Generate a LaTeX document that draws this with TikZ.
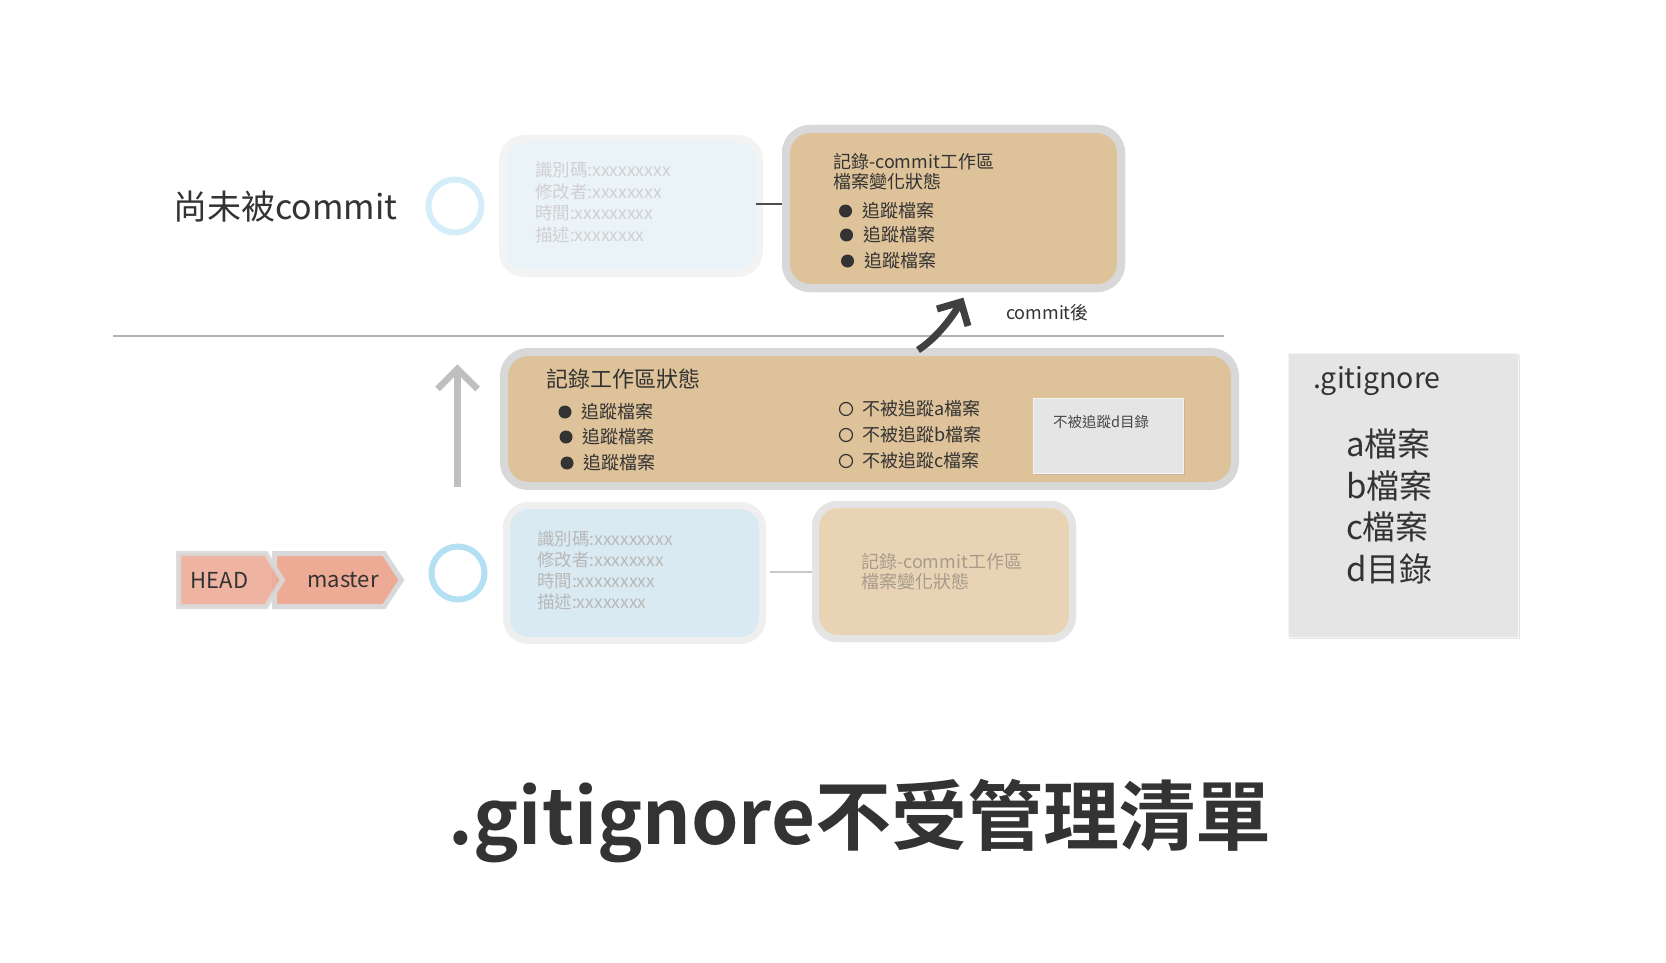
\documentclass[tikz,border=0pt]{standalone}
\usepackage{fontspec}
\setmainfont{Noto Sans CJK TC}[BoldFont={Noto Sans CJK TC Bold}]
\usetikzlibrary{shadows,calc}
\definecolor{fadeborder}{HTML}{F3F3F3}
\definecolor{fadebluefill}{HTML}{EAF3F8}
\definecolor{fadetext}{HTML}{D0D0D0}
\definecolor{tanborder}{HTML}{D8D8D8}
\definecolor{tanfill}{HTML}{DEC29A}
\definecolor{lowblueborder}{HTML}{EFEFEF}
\definecolor{lowbluefill}{HTML}{DAEAF3}
\definecolor{lowbluetext}{HTML}{B8B8B8}
\definecolor{lowtanborder}{HTML}{E4E4E4}
\definecolor{lowtanfill}{HTML}{E8D4B5}
\definecolor{lowtantext}{HTML}{A89B8C}
\definecolor{circtop}{HTML}{D5EDF8}
\definecolor{circlow}{HTML}{B4E0F3}
\definecolor{tagfill}{HTML}{EDAA94}
\definecolor{tagborder}{HTML}{D9D9D9}
\definecolor{greybox}{HTML}{E5E5E5}
\definecolor{textdark}{HTML}{333333}
\definecolor{arrowdark}{HTML}{404040}
\definecolor{uparrowcol}{HTML}{BFBFBF}
\definecolor{sepcol}{HTML}{B3B3B3}
\definecolor{conndark}{HTML}{4D4D4D}
\definecolor{connlight}{HTML}{C8C8C8}
\newcommand{\fsz}[2]{\fontsize{#1}{#2}\selectfont}
\begin{document}
\begin{tikzpicture}[x=1pt,y=-1pt,
  txt/.style={inner sep=0pt, outer sep=0pt, text=textdark, align=left},
  fadebluebox/.style={draw=fadeborder, line width=7pt, fill=fadebluefill, rounded corners=22pt, inner sep=0pt},
  tanbox/.style={draw=tanborder, line width=8pt, fill=tanfill, rounded corners=24pt, inner sep=0pt},
  lowbluebox/.style={draw=lowblueborder, line width=7pt, fill=lowbluefill, rounded corners=22pt, inner sep=0pt},
  lowtanbox/.style={draw=lowtanborder, line width=7pt, fill=lowtanfill, rounded corners=22pt, inner sep=0pt},
  greycard/.style={draw=white!60!greybox, line width=1pt, fill=greybox, inner sep=0pt,
     drop shadow={shadow xshift=1.5pt, shadow yshift=-1.5pt, opacity=0.22}},
  ring/.style={circle, line width=6pt, inner sep=0pt, minimum size=53pt},
  dotbullet/.style={circle, fill=textdark, inner sep=0pt, minimum size=13pt},
  hollowbullet/.style={circle, draw=textdark, line width=1.2pt, inner sep=0pt, minimum size=13pt},
  tagshape/.style={draw=tagborder, line width=5pt, fill=tagfill, line join=miter},
  sepline/.style={draw=sepcol, line width=1.5pt},
  uparrowline/.style={draw=uparrowcol, line width=6.5pt, line join=miter},
  cmarrowline/.style={draw=arrowdark, line width=7pt, line join=miter}
]
\useasboundingbox[fill=white] (0,0) rectangle (1666,963);

% separator line
\coordinate (sepL) at (113,336);
\coordinate (sepR) at (1224,336);
\draw[sepline] (sepL) -- (sepR);

% ---------- top row ----------
\node[txt, anchor=west, font=\fsz{34}{40}] (notyet) at (173,207) {尚未被commit};
\node[ring, draw=circtop] (ctop) at (455,206) {};

\node[fadebluebox, minimum width=257pt, minimum height=135pt] (topblue) at (631,206) {};
\node[tanbox, minimum width=335pt, minimum height=159pt] (toptan) at (953.5,208.5) {};
\draw[draw=conndark, line width=2.5pt] ($(topblue.east)+(-7,-2)$) -- ($(toptan.west)+(0,-4.5)$);
% redraw the box over the connector end
\node[tanbox, minimum width=335pt, minimum height=159pt] at (953.5,208.5) {};

\node[txt, anchor=west, text=fadetext, font=\fsz{17.5}{21.7}] (topbluetext) at (535,202.5)
  {識別碼:xxxxxxxxx\\修改者:xxxxxxxx\\時間:xxxxxxxxx\\描述:xxxxxxxx};
\node[txt, anchor=west, font=\fsz{18}{20}] (toptantext) at (833,172)
  {記錄-commit工作區\\檔案變化狀態};
\node[dotbullet] (tb1) at (845.5,211) {};
\node[dotbullet] (tb2) at (846.5,235) {};
\node[dotbullet] (tb3) at (847.5,261) {};
\node[txt, anchor=west, font=\fsz{18}{20}] (tt1) at (862,211) {追蹤檔案};
\node[txt, anchor=west, font=\fsz{18}{20}] (tt2) at (863,235) {追蹤檔案};
\node[txt, anchor=west, font=\fsz{18}{20}] (tt3) at (864,261) {追蹤檔案};

% ---------- middle row ----------
\node[tanbox, minimum width=731pt, minimum height=134pt] (midtan) at (869.5,419) {};
\node[txt, anchor=west, font=\fsz{22}{26}] (midtitle) at (546,379) {記錄工作區狀態};
\node[dotbullet] (mb1) at (565,412) {};
\node[dotbullet] (mb2) at (566,437) {};
\node[dotbullet] (mb3) at (567,463) {};
\node[txt, anchor=west, font=\fsz{18}{20}] (mt1) at (581,412) {追蹤檔案};
\node[txt, anchor=west, font=\fsz{18}{20}] (mt2) at (582,437) {追蹤檔案};
\node[txt, anchor=west, font=\fsz{18}{20}] (mt3) at (583,463) {追蹤檔案};
\node[hollowbullet] (hb1) at (846,409) {};
\node[hollowbullet] (hb2) at (846,435) {};
\node[hollowbullet] (hb3) at (846,461) {};
\node[txt, anchor=west, font=\fsz{18}{20}] (ht1) at (862,409) {不被追蹤a檔案};
\node[txt, anchor=west, font=\fsz{18}{20}] (ht2) at (862,435) {不被追蹤b檔案};
\node[txt, anchor=west, font=\fsz{18}{20}] (ht3) at (862,461) {不被追蹤c檔案};
\node[greycard, minimum width=150pt, minimum height=75pt] (dbox) at (1108,435.5) {};
\node[txt, anchor=west, text=textdark!90, font=\fsz{14.5}{17}] (dtext) at (1053,422) {不被追蹤d目錄};

% commit arrow
\coordinate (cmS) at (918,350);
\coordinate (cmE) at (961,302);
\draw[cmarrowline] (cmS) .. controls (934,340) and (951,320) .. (cmE);
\draw[cmarrowline] ($(cmE)+(-24,7)$) -- (cmE) -- ($(cmE)+(7,24)$);
\node[txt, anchor=west, font=\fsz{18}{20}] (cmlabel) at (1006,313) {commit後};

% up arrow
\coordinate (upS) at (457.5,487);
\coordinate (upE) at (457.5,369);
\draw[uparrowline] (upS) -- (upE);
\draw[uparrowline] ($(upE)+(-20,20)$) -- (upE) -- ($(upE)+(20,20)$);

% ---------- bottom row ----------
\draw[tagshape] (274.5,553.5) -- (384,553.5) -- (401.5,580) -- (384,606.5) -- (274.5,606.5) -- cycle;
\draw[tagshape, fill opacity=0.88, draw opacity=0.88] (178.5,553.5) -- (266,553.5) -- (282.5,580) -- (266,606.5) -- (178.5,606.5) -- cycle;
\node[txt, font=\fsz{22}{26}] (headtxt) at (219.5,580) {HEAD};
\node[txt, font=\fsz{22}{26}] (mastertxt) at (343,580) {master};

\node[ring, draw=circlow] (clow) at (458,573) {};

\node[lowbluebox, minimum width=256pt, minimum height=135pt] (lowblue) at (634.5,573) {};
\node[lowtanbox, minimum width=257pt, minimum height=134pt] (lowtan) at (944,571.5) {};
\draw[draw=connlight, line width=2pt] ($(lowblue.east)+(3.5,-1)$) -- ($(lowtan.west)+(0,0.5)$);
\node[lowtanbox, minimum width=257pt, minimum height=134pt] at (944,571.5) {};
\node[txt, anchor=west, text=lowbluetext, font=\fsz{17.5}{21}] (lowbluetxt) at (537,570.5)
  {識別碼:xxxxxxxxx\\修改者:xxxxxxxx\\時間:xxxxxxxxx\\描述:xxxxxxxx};
\node[txt, anchor=west, text=lowtantext, font=\fsz{18}{20}] (lowtantxt) at (861,572)
  {記錄-commit工作區\\檔案變化狀態};

% ---------- gitignore card ----------
\node[greycard, minimum width=230pt, minimum height=284pt] (gitbox) at (1403,495) {};
\node[txt, anchor=west, font=\fsz{28.5}{34}] (gittitle) at (1313,381) {.gitignore};
\node[txt, anchor=west, font=\fsz{33}{41.7}] (gitlist) at (1346,506.5) {a檔案\\b檔案\\c檔案\\d目錄};

% ---------- title ----------
\node[txt, font=\bfseries\fsz{76}{82}] (title) at (860,821) {.gitignore不受管理清單};
\end{tikzpicture}
\end{document}
